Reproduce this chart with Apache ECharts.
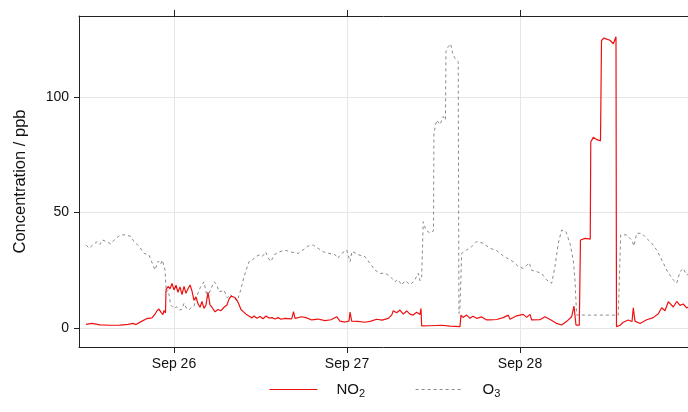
<!DOCTYPE html>
<html>
<head>
<meta charset="utf-8">
<script src="https://cdn.jsdelivr.net/npm/echarts@6/dist/echarts.min.js"></script>
<style>
  html, body { margin: 0; padding: 0; background: #fff; }
  #chart { width: 688px; height: 412px; }
</style>
</head>
<body>
<div id="chart"></div>
<script>
// Time is counted in hours from Sep 25 00:00.
const dayTickHours = [24, 48, 72];
const dayTickLabels = ['Sep 26', 'Sep 27', 'Sep 28'];
const concTicks = [0, 50, 100];

// NO2 concentration, [hour, ppb]
const no2 = [
  [11.79, 1.6], [12.62, 2.0], [13.73, 1.4], [15.12, 1.2], [16.51, 1.3], [17.62, 1.6],
  [18.31, 2.0], [18.73, 1.5], [19.56, 3.0], [20.25, 4.1], [20.95, 4.4], [21.36, 6.0],
  [21.64, 7.5], [21.92, 8.2], [22.20, 6.8], [22.47, 5.8], [22.61, 7.6], [22.82, 6.5],
  [22.89, 16.5], [23.17, 18.0], [23.45, 17.0], [23.72, 19.3], [24.00, 16.5], [24.28, 18.5],
  [24.55, 15.5], [24.83, 17.8], [25.11, 14.5], [25.39, 18.0], [25.66, 15.0], [25.94, 17.0],
  [26.22, 18.6], [26.50, 16.0], [26.77, 12.0], [27.05, 13.5], [27.33, 10.5], [27.61, 9.0],
  [27.88, 11.5], [28.16, 8.5], [28.44, 10.0], [28.72, 15.5], [28.99, 10.0], [29.27, 9.0],
  [29.69, 7.0], [30.10, 8.0], [30.52, 7.5], [30.94, 9.0], [31.35, 10.0], [31.63, 12.5],
  [31.91, 13.8], [32.18, 14.3], [32.46, 13.2], [32.74, 12.0], [33.02, 10.2], [33.29, 8.0],
  [33.57, 7.2], [33.99, 6.0], [34.40, 5.2], [34.82, 4.4], [35.10, 5.2], [35.51, 4.2],
  [35.93, 5.0], [36.35, 4.0], [36.76, 5.2], [37.18, 4.3], [37.59, 4.5], [38.01, 3.9],
  [38.43, 4.5], [38.84, 3.8], [39.40, 4.2], [40.33, 4.0], [40.58, 7.1], [40.79, 4.2],
  [41.71, 4.9], [42.31, 4.5], [43.10, 3.5], [43.98, 3.9], [44.95, 3.2], [45.78, 3.6],
  [46.57, 4.9], [47.03, 3.0], [47.72, 2.6], [48.28, 3.0], [48.42, 6.9], [48.65, 3.0],
  [49.52, 2.9], [50.50, 2.5], [51.33, 3.0], [52.12, 3.8], [52.86, 3.4], [53.73, 4.2],
  [54.20, 5.6], [54.42, 7.5], [54.89, 6.6], [55.35, 7.8], [55.81, 6.0], [56.28, 7.4],
  [56.74, 6.0], [57.16, 5.6], [57.67, 6.8], [58.13, 5.9], [58.27, 8.5], [58.36, 0.9],
  [59.51, 1.0], [61.14, 1.2], [62.29, 0.8], [63.68, 0.6], [63.81, 5.6], [64.09, 4.6],
  [64.60, 5.6], [65.06, 4.2], [65.48, 5.1], [65.99, 4.2], [66.69, 4.8], [67.38, 3.5],
  [67.84, 3.5], [68.77, 3.7], [69.68, 4.5], [70.38, 5.6], [70.61, 3.8], [71.54, 5.3],
  [72.46, 5.9], [72.93, 4.6], [73.39, 5.9], [73.62, 3.5], [74.77, 3.6], [75.47, 4.9],
  [76.30, 3.5], [77.09, 2.0], [77.78, 1.3], [78.48, 2.9], [79.17, 4.9], [79.49, 9.5],
  [79.77, 1.3], [80.23, 1.3], [80.39, 38.1], [81.02, 38.8], [81.75, 38.5], [81.82, 80.5],
  [82.17, 82.5], [82.68, 81.5], [83.17, 81.0], [83.31, 124.4], [83.65, 125.5], [84.03, 125.0],
  [84.49, 124.5], [84.95, 123.0], [85.32, 126.0], [85.39, 0.6], [85.88, 1.2], [86.33, 2.5],
  [87.02, 3.5], [87.54, 2.8], [87.72, 8.8], [87.95, 3.0], [88.65, 2.0], [89.58, 3.6],
  [90.49, 4.5], [91.19, 6.2], [91.66, 8.8], [92.12, 7.5], [92.58, 11.4], [92.81, 11.8],
  [93.27, 9.1], [93.74, 11.5], [94.20, 9.8], [94.65, 10.4], [95.12, 8.7], [95.58, 9.5]
];

// O3 concentration, [hour, ppb]
const o3 = [
  [11.83, 35.9], [12.21, 34.5], [12.90, 36.4], [13.36, 37.4], [13.73, 36.2], [14.05, 38.1],
  [14.57, 37.5], [15.22, 36.4], [15.91, 38.8], [16.61, 40.3], [17.30, 40.3], [17.99, 39.7],
  [18.45, 37.4], [19.14, 35.5], [19.84, 32.3], [20.53, 31.6], [20.99, 28.0], [21.36, 25.1],
  [21.82, 29.0], [22.15, 27.6], [22.38, 29.4], [22.75, 25.1], [22.93, 15.7], [23.21, 16.4],
  [23.54, 10.0], [24.00, 8.5], [24.37, 9.2], [24.69, 7.8], [25.07, 8.0], [25.39, 10.7],
  [25.73, 8.5], [26.08, 7.8], [26.43, 9.0], [26.77, 9.5], [27.23, 14.3], [27.70, 17.9],
  [28.16, 20.0], [28.62, 13.1], [29.06, 16.5], [29.55, 20.0], [29.90, 19.0], [30.24, 15.7],
  [30.66, 16.0], [30.94, 16.4], [31.39, 13.1], [31.84, 14.5], [32.32, 12.8], [32.78, 11.7],
  [33.25, 16.4], [33.71, 22.2], [34.40, 28.7], [34.89, 29.5], [35.33, 30.9], [35.79, 31.6],
  [36.28, 31.0], [36.72, 32.9], [37.04, 30.5], [37.42, 28.8], [38.01, 32.0], [38.57, 32.9],
  [39.26, 33.6], [39.63, 33.5], [40.37, 32.8], [41.24, 32.3], [41.90, 33.8], [42.63, 35.5],
  [43.32, 35.9], [43.98, 34.5], [44.71, 33.0], [45.64, 32.2], [46.33, 31.8], [46.71, 30.2],
  [47.27, 32.3], [47.96, 33.8], [48.42, 28.7], [48.69, 33.2], [49.57, 31.7], [50.50, 30.9],
  [51.19, 28.0], [51.88, 25.1], [52.58, 23.6], [53.27, 23.8], [53.96, 22.4], [54.66, 20.0],
  [55.07, 21.0], [55.59, 18.6], [56.05, 20.5], [56.74, 18.8], [57.30, 20.2], [57.89, 23.7],
  [58.13, 20.5], [58.36, 22.2], [58.58, 46.0], [58.95, 42.4], [59.51, 41.1], [60.00, 42.0],
  [60.06, 84.3], [60.44, 90.0], [60.90, 88.0], [61.36, 91.5], [61.66, 90.0], [61.73, 119.6],
  [62.05, 121.8], [62.37, 123.0], [62.65, 119.0], [62.97, 116.7], [63.43, 115.3], [63.53, 6.3],
  [63.68, 9.2], [63.91, 32.3], [64.60, 33.8], [65.30, 35.2], [65.99, 37.4], [66.91, 36.7],
  [67.84, 34.5], [68.77, 33.5], [69.68, 31.2], [70.34, 30.0], [71.07, 28.7], [71.77, 26.6],
  [72.46, 25.8], [73.29, 28.2], [73.62, 25.0], [74.32, 24.4], [75.01, 23.6], [75.70, 20.8],
  [76.40, 19.4], [76.85, 26.6], [77.31, 36.7], [77.78, 42.4], [78.38, 41.7], [78.93, 36.7],
  [79.39, 29.4], [79.63, 20.8], [79.86, 5.6], [85.64, 5.6], [85.97, 40.3], [86.80, 40.3],
  [87.50, 38.1], [87.81, 35.5], [88.19, 41.0], [88.88, 41.0], [89.58, 38.8], [90.27, 36.7],
  [90.96, 33.8], [91.42, 31.0], [91.88, 28.2], [92.35, 25.1], [92.81, 22.9], [93.27, 20.8],
  [93.74, 19.4], [94.20, 24.4], [94.65, 25.8], [95.12, 22.9], [95.58, 24.0]
];

const FONT = '"Liberation Sans", Arial, Helvetica, sans-serif';
const AXIS_COLOR = '#222';
const GRID_COLOR = '#e6e6e6';
const X_MIN = 10.82, X_MAX = 95.31;

const chart = echarts.init(document.getElementById('chart'), null, { renderer: 'canvas' });

chart.setOption({
  animation: false,
  backgroundColor: '#fff',
  textStyle: { fontFamily: FONT },
  grid: { left: 79, right: 0, top: 16, bottom: 65, containLabel: false },
  legend: {
    left: 264,
    top: 377,
    itemWidth: 48,
    itemHeight: 16,
    itemGap: 50,
    data: ['NO2', 'O3'],
    // keep only the line sample in the key, no point marker
    itemStyle: { color: 'transparent', borderColor: 'transparent', borderWidth: 0 },
    lineStyle: { width: 1 },
    formatter: function (name) {
      return name === 'NO2' ? '{pad|}{b|NO}{s|2}' : '{pad|}{b|O}{s|3}';
    },
    textStyle: {
      fontFamily: FONT,
      color: '#111',
      rich: {
        pad: { width: 14 },
        b: { fontSize: 15, fontFamily: FONT, color: '#111' },
        s: { fontSize: 11, fontFamily: FONT, color: '#111', padding: [9, 0, 0, 0] }
      }
    }
  },
  xAxis: [
    {
      type: 'value',
      min: X_MIN,
      max: X_MAX,
      position: 'bottom',
      axisLine: { show: true, onZero: false, lineStyle: { color: AXIS_COLOR, width: 1 } },
      axisTick: { show: true, customValues: dayTickHours, length: 6, lineStyle: { color: AXIS_COLOR } },
      axisLabel: {
        customValues: dayTickHours,
        margin: 10,
        fontSize: 14,
        color: '#111',
        fontFamily: FONT,
        formatter: function (v) {
          const i = dayTickHours.indexOf(v);
          return i >= 0 ? dayTickLabels[i] : '';
        }
      },
      splitLine: { show: true, lineStyle: { color: GRID_COLOR, width: 1 } }
    },
    {
      type: 'value',
      min: X_MIN,
      max: X_MAX,
      position: 'top',
      axisLine: { show: true, onZero: false, lineStyle: { color: AXIS_COLOR, width: 1 } },
      axisTick: { show: true, customValues: dayTickHours, length: 6, lineStyle: { color: AXIS_COLOR } },
      axisLabel: { show: false },
      splitLine: { show: false }
    }
  ],
  yAxis: {
    type: 'value',
    min: -8.2,
    max: 135,
    name: 'Concentration / ppb',
    nameLocation: 'middle',
    nameGap: 50,
    nameTextStyle: { fontSize: 16.5, color: '#111', fontFamily: FONT },
    axisLine: { show: true, onZero: false, lineStyle: { color: AXIS_COLOR, width: 1 } },
    axisTick: { show: true, customValues: concTicks, length: 5, lineStyle: { color: AXIS_COLOR } },
    axisLabel: { customValues: concTicks, margin: 10, fontSize: 14, color: '#111', fontFamily: FONT },
    splitLine: { show: true, lineStyle: { color: GRID_COLOR, width: 1 } }
  },
  series: [
    {
      name: 'NO2',
      type: 'line',
      data: no2,
      showSymbol: false,
      symbol: 'none',
      clip: true,
      lineStyle: { color: '#ee1111', width: 1.2 },
      itemStyle: { color: '#ee1111' },
      z: 3
    },
    {
      name: 'O3',
      type: 'line',
      data: o3,
      showSymbol: false,
      symbol: 'none',
      clip: true,
      lineStyle: { color: '#8a8a8a', width: 1, type: [3, 3] },
      itemStyle: { color: '#8a8a8a' },
      z: 2
    }
  ]
});
</script>
</body>
</html>
